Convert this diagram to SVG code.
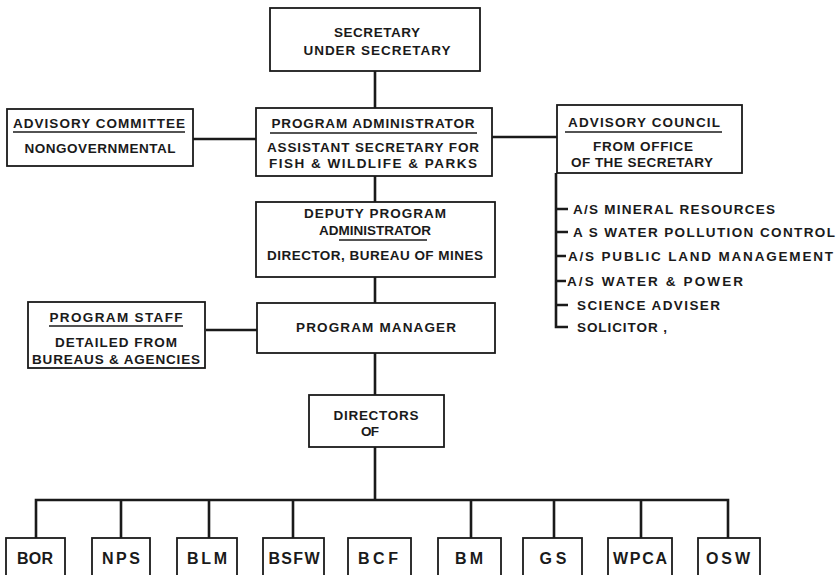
<svg xmlns="http://www.w3.org/2000/svg" width="839" height="575" viewBox="0 0 839 575">
<style>
.box{fill:#fff;stroke:#1a1a1a;stroke-width:1.8}
.ln{stroke:#1a1a1a;stroke-width:2.6;fill:none}
.ul{stroke:#1a1a1a;stroke-width:1.6}
text{font-family:"Liberation Sans",Arial,sans-serif;font-weight:bold;font-size:13.5px;fill:#1a1a1a;text-anchor:middle}
.lst{text-anchor:start}
.big{font-size:16px}
</style>
<rect width="839" height="575" fill="#fff"/>
<g id="connectors">
<path class="ln" d="M375 71V108M375 176V202M375 277V303M375 353V395M375 447V500"/>
<path class="ln" d="M193 139H256M492 137H557M206 330H257"/>
<path class="ln" d="M556 173V327H568"/>
<path class="ln" d="M556 209H568M556 232H568M556 256H566M556 281H566M556 305H568"/>
<path class="ln" d="M36 538V500H728V538M121 500V538M209 500V538M293 500V538M471 500V538M554 500V538M641 500V538"/>
</g>
<g id="secretary"><rect class="box" x="270" y="8" width="210" height="63"/>
<text x="377" y="37" textLength="86" lengthAdjust="spacing">SECRETARY</text>
<text x="377" y="55" textLength="147" lengthAdjust="spacing">UNDER SECRETARY</text></g>
<g id="program-administrator"><rect class="box" x="256" y="108" width="236" height="68"/>
<text x="373" y="128" textLength="203" lengthAdjust="spacing">PROGRAM ADMINISTRATOR</text>
<line class="ul" x1="270" y1="133" x2="477" y2="133"/>
<text x="373" y="152" textLength="212" lengthAdjust="spacing">ASSISTANT SECRETARY FOR</text>
<text x="373" y="168" textLength="208" lengthAdjust="spacing">FISH &amp; WILDLIFE &amp; PARKS</text></g>
<g id="advisory-committee"><rect class="box" x="7" y="109" width="186" height="57"/>
<text x="99" y="128" textLength="172" lengthAdjust="spacing">ADVISORY COMMITTEE</text>
<line class="ul" x1="13" y1="132" x2="185" y2="132"/>
<text x="100" y="153" textLength="151" lengthAdjust="spacing">NONGOVERNMENTAL</text></g>
<g id="advisory-council"><rect class="box" x="557" y="105" width="185" height="68"/>
<text x="644" y="127" textLength="152" lengthAdjust="spacing">ADVISORY COUNCIL</text>
<line class="ul" x1="565" y1="132" x2="722" y2="132"/>
<text x="643" y="151" textLength="100" lengthAdjust="spacing">FROM OFFICE</text>
<text x="642" y="167" textLength="142" lengthAdjust="spacing">OF THE SECRETARY</text></g>
<g id="council-members">
<text class="lst" x="573" y="214" textLength="202" lengthAdjust="spacing">A/S MINERAL RESOURCES</text>
<text class="lst" x="573" y="237" textLength="262" lengthAdjust="spacing">A S WATER POLLUTION CONTROL</text>
<text class="lst" x="568" y="261" textLength="265" lengthAdjust="spacing">A/S PUBLIC LAND MANAGEMENT</text>
<text class="lst" x="567" y="286" textLength="176" lengthAdjust="spacing">A/S WATER &amp; POWER</text>
<text class="lst" x="577" y="310" textLength="143" lengthAdjust="spacing">SCIENCE ADVISER</text>
<text class="lst" x="577" y="332" textLength="90" lengthAdjust="spacing">SOLICITOR ,</text></g>
<g id="deputy-program-administrator"><rect class="box" x="256" y="202" width="239" height="75"/>
<text x="375" y="218" textLength="142" lengthAdjust="spacing">DEPUTY PROGRAM</text>
<text x="375" y="235" textLength="112" lengthAdjust="spacing">ADMINISTRATOR</text>
<line class="ul" x1="339" y1="240" x2="427" y2="240"/>
<text x="375" y="260" textLength="216" lengthAdjust="spacing">DIRECTOR, BUREAU OF MINES</text></g>
<g id="program-manager"><rect class="box" x="257" y="303" width="238" height="50"/>
<text x="376" y="332" textLength="160" lengthAdjust="spacing">PROGRAM MANAGER</text></g>
<g id="program-staff"><rect class="box" x="28" y="302" width="177" height="66"/>
<text x="116" y="322" textLength="133" lengthAdjust="spacing">PROGRAM STAFF</text>
<line class="ul" x1="49" y1="326" x2="183" y2="326"/>
<text x="116" y="347" textLength="122" lengthAdjust="spacing">DETAILED FROM</text>
<text x="116" y="364" textLength="168" lengthAdjust="spacing">BUREAUS &amp; AGENCIES</text></g>
<g id="directors-of"><rect class="box" x="309" y="395" width="135" height="52"/>
<text x="376" y="420" textLength="85" lengthAdjust="spacing">DIRECTORS</text>
<text x="370" y="436" textLength="18" lengthAdjust="spacing">OF</text></g>
<g id="bor"><rect class="box" x="6" y="538" width="59" height="42"/><text class="big" x="35" y="564" textLength="36" lengthAdjust="spacing">BOR</text></g>
<g id="nps"><rect class="box" x="92" y="538" width="58" height="42"/><text class="big" x="121" y="564" textLength="38" lengthAdjust="spacing">NPS</text></g>
<g id="blm"><rect class="box" x="177" y="538" width="60" height="42"/><text class="big" x="207" y="564" textLength="40" lengthAdjust="spacing">BLM</text></g>
<g id="bsfw"><rect class="box" x="263" y="538" width="61" height="42"/><text class="big" x="294" y="564" textLength="51" lengthAdjust="spacing">BSFW</text></g>
<g id="bcf"><rect class="box" x="348" y="538" width="63" height="42"/><text class="big" x="378" y="564" textLength="40" lengthAdjust="spacing">BCF</text></g>
<g id="bm"><rect class="box" x="438" y="538" width="63" height="42"/><text class="big" x="469" y="564" textLength="28" lengthAdjust="spacing">BM</text></g>
<g id="gs"><rect class="box" x="523" y="538" width="59" height="42"/><text class="big" x="553" y="564" textLength="27" lengthAdjust="spacing">GS</text></g>
<g id="wpca"><rect class="box" x="608" y="538" width="64" height="42"/><text class="big" x="640" y="564" textLength="54" lengthAdjust="spacing">WPCA</text></g>
<g id="osw"><rect class="box" x="698" y="538" width="62" height="42"/><text class="big" x="728" y="564" textLength="44" lengthAdjust="spacing">OSW</text></g>
</svg>
